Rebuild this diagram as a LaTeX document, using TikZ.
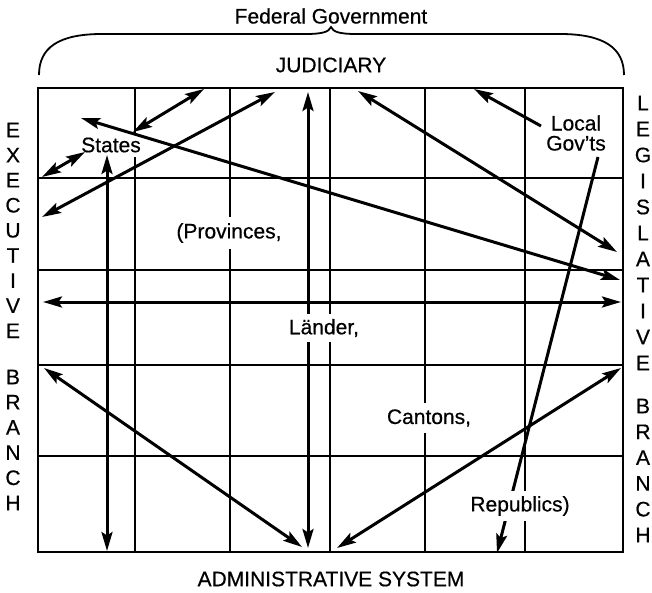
\documentclass[tikz,border=0pt]{standalone}
\usepackage{fontspec}
\setmainfont{Liberation Sans}[FakeBold=0.5]
\usetikzlibrary{arrows.meta}
\begin{document}
\begin{tikzpicture}[x=1pt,y=-1pt,
  gridline/.style={line width=1.3pt},
  conn/.style={line width=3pt,{Stealth[length=19pt,width=11pt,inset=3.5pt]}-{Stealth[length=19pt,width=11pt,inset=3.5pt]}},
  oneway/.style={line width=3pt,-{Stealth[length=19pt,width=11pt,inset=3.5pt]}},
  lab/.style={font=\fontsize{21}{24}\selectfont,fill=white,inner xsep=2pt,inner ysep=3.5pt},
  side/.style={font=\fontsize{21}{24}\selectfont,inner sep=0pt},
  title/.style={font=\fontsize{21}{24}\selectfont,inner sep=0pt}]
\useasboundingbox (0,0) rectangle (652,593);

% titles
\node[title] (fed) at (331,16) {Federal Government};
\node[title] (jud) at (331,65) {JUDICIARY};
\node[title] (adm) at (331,579) {ADMINISTRATIVE SYSTEM};

% brace
\draw[line width=1.8pt] (39,75) .. controls (39,48) and (58,34) .. (102,34) -- (306,34)
  .. controls (322,34) and (329,32) .. (331,27) .. controls (333,32) and (340,34) .. (356,34)
  -- (560,34) .. controls (604,34) and (624,48) .. (624,75);

% grid
\draw[gridline] (38,88) rectangle (623,552);
\foreach \yy in {178,270,365,456} \draw[gridline] (38,\yy) -- (623,\yy);
\foreach \xx in {135,230,330,425,525} \draw[gridline] (\xx,88) -- (\xx,552);

% side letters
\foreach \ch [count=\i] in {E,X,E,C,U,T,I,V,E}
  \node[side] (ex\i) at (13,{130+25.1*(\i-1)}) {\ch};
\foreach \ch [count=\i] in {B,R,A,N,C,H}
  \node[side] (eb\i) at (13,{377+25.2*(\i-1)}) {\ch};
\foreach \ch [count=\i] in {L,E,G,I,S,L,A,T,I,V,E}
  \node[side] (lg\i) at (643,{103+26*(\i-1)}) {\ch};
\foreach \ch [count=\i] in {B,R,A,N,C,H}
  \node[side] (lb\i) at (643,{406+25.8*(\i-1)}) {\ch};

% labels below the connectors
\node[lab,inner ysep=5pt] (states) at (111,145) {States};
\node[lab,inner ysep=6pt] (prov) at (229,233) {(Provinces,};
\node[lab,inner ysep=6pt] (cant) at (429,418) {Cantons,};
\node[lab,align=center,inner sep=1pt,font=\fontsize{21}{20}\selectfont] (local) at (576,133) {Local\\Gov'ts};

% connector end points
\coordinate (a1) at (204,89);  \coordinate (b1) at (133,132);
\coordinate (a2) at (275,92);  \coordinate (b2) at (42,217);
\coordinate (a3) at (42,177);  \coordinate (b3) at (85,152);
\coordinate (a4) at (81,118);  \coordinate (b4) at (620,280);
\coordinate (a5) at (358,91);  \coordinate (b5) at (617,252);
\coordinate (a6) at (43,302);  \coordinate (b6) at (621,302);
\coordinate (a7) at (308,92);  \coordinate (b7) at (308,548);
\coordinate (a8) at (107,155); \coordinate (b8) at (107,551);
\coordinate (a9) at (44,368);  \coordinate (b9) at (302,547);
\coordinate (a10) at (621,368); \coordinate (b10) at (337,548);
\coordinate (a11) at (541,126); \coordinate (b11) at (474,89);
\coordinate (a12) at (598,157); \coordinate (b12) at (497,553);

% connectors
\draw[conn] (a1) -- (b1);
\draw[conn] (a2) -- (b2);
\draw[conn] (a3) -- (b3);
\draw[conn] (a4) -- (b4);
\draw[conn] (a5) -- (b5);
\draw[conn] (a6) -- (b6);
\draw[conn] (a7) -- (b7);
\draw[conn] (a8) -- (b8);
\draw[conn] (a9) -- (b9);
\draw[conn] (a10) -- (b10);
\draw[oneway] (a11) -- (b11);
\draw[oneway] (a12) -- (b12);

% labels above the connectors
\node[lab,inner ysep=5pt] (laender) at (324,328) {Länder,};
\node[lab,inner ysep=5pt,inner xsep=3pt] (rep) at (520,506) {Republics)};
\end{tikzpicture}
\end{document}
